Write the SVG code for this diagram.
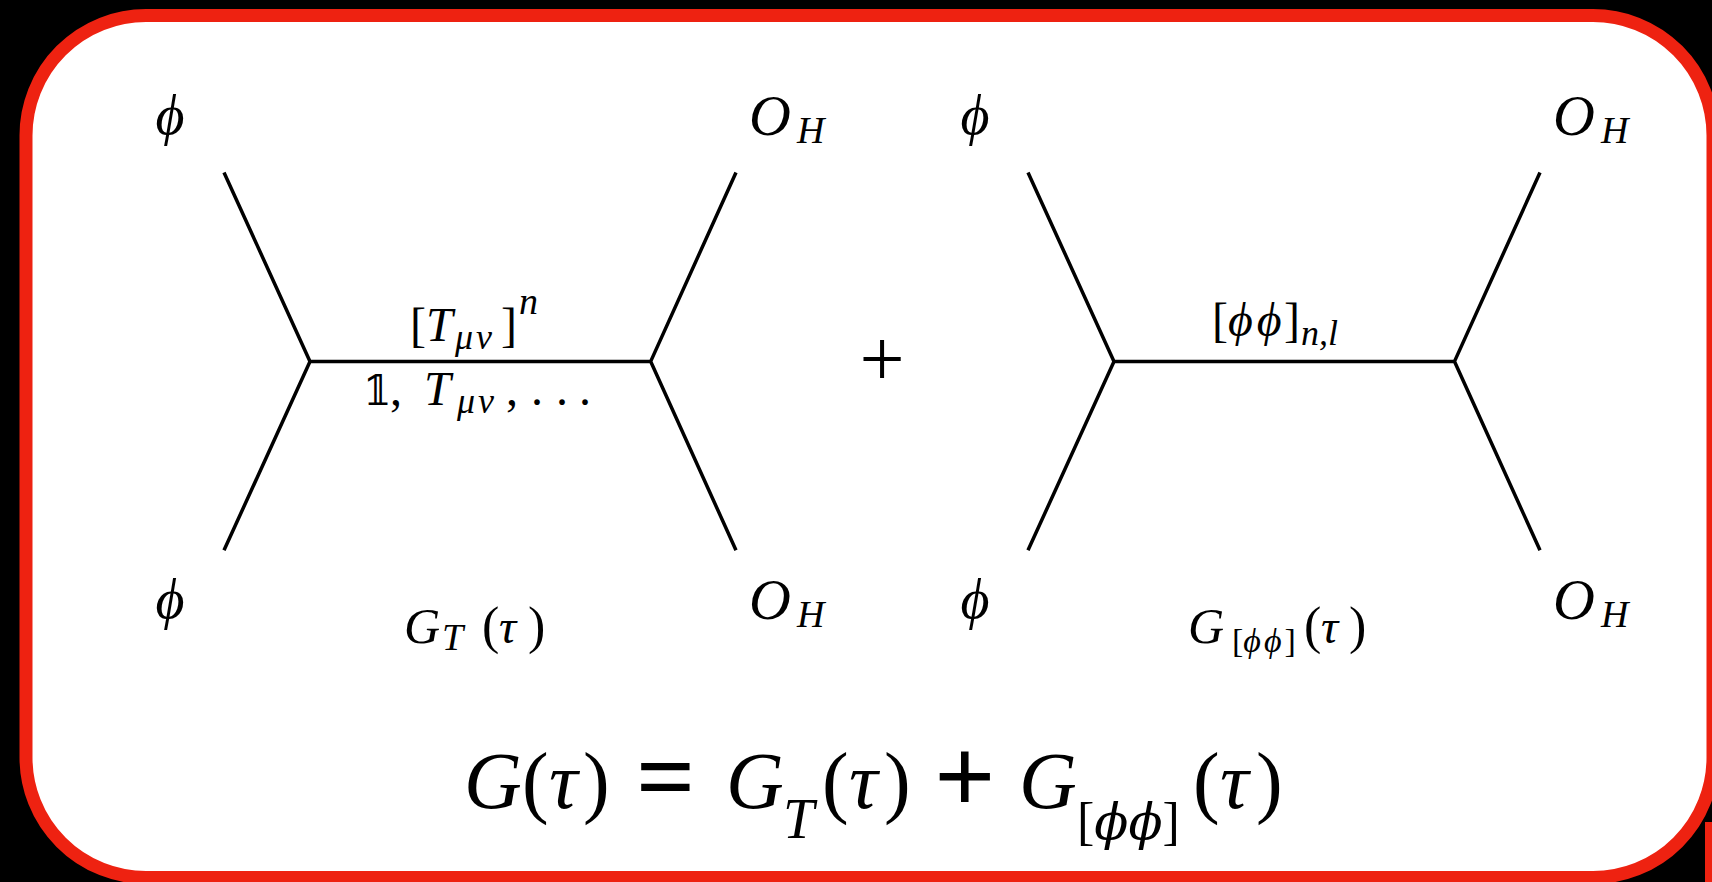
<svg xmlns="http://www.w3.org/2000/svg" width="1712" height="882" viewBox="0 0 1712 882">
<style>
.m{font-family:"Liberation Serif","DejaVu Serif",serif;font-style:italic;fill:#000}
.r{font-family:"Liberation Serif","DejaVu Serif",serif;font-style:normal;fill:#000}
.dj{font-family:"DejaVu Serif",serif;font-style:italic}
.b{font-weight:bold}
.L{font-size:56px}
.M{font-size:48px}
.S{font-size:36px}
.E{font-size:80px}
.edge{stroke:#000;stroke-width:3.5;fill:none;stroke-linecap:butt;stroke-linejoin:miter}
</style>
<rect x="0" y="0" width="1712" height="882" fill="#000"/>
<rect id="frame" x="26" y="15.5" width="1687" height="862" rx="120" ry="120" fill="#fff" stroke="#EE2211" stroke-width="13"/>
<rect x="1705" y="822" width="7" height="60" fill="#EE2211"/>

<g id="connectors">
  <path class="edge" d="M224,172.5 L310,361.4 L224,550.3 M310,361.4 L650.7,361.4 M736,172.5 L650.7,361.4 L736,550.3"/>
  <path class="edge" d="M1028,172.5 L1114,361.4 L1028,550.3 M1114,361.4 L1454.5,361.4 M1540,172.5 L1454.5,361.4 L1540,550.3"/>
</g>

<g id="left-diagram">
  <text class="m L" x="170" y="134" text-anchor="middle">ϕ</text>
  <text class="m L" x="170" y="618" text-anchor="middle">ϕ</text>
  <text class="m" x="749" y="135"><tspan style="font-size:58px">O</tspan><tspan x="797" y="143" style="font-size:38px">H</tspan></text>
  <text class="m" x="749" y="619"><tspan style="font-size:58px">O</tspan><tspan x="797" y="627" style="font-size:38px">H</tspan></text>
  <text class="m M" y="341"><tspan class="r" x="410">[</tspan><tspan x="426">T</tspan><tspan class="S" x="455" y="349" letter-spacing="3">μν</tspan><tspan class="r" x="501" y="341">]</tspan><tspan x="519" y="314" style="font-size:38px">n</tspan></text>
  <text class="m M" y="405"><tspan x="363" style="font-family:'DejaVu Serif','DejaVu Sans',serif;font-style:normal;font-size:41px">𝟙</tspan><tspan class="r" x="390">,</tspan><tspan x="424">T</tspan><tspan class="S" x="457" y="413" letter-spacing="3">μν</tspan><tspan class="r" x="506" y="405">,</tspan><tspan class="r" x="531">.</tspan><tspan class="r" x="556">.</tspan><tspan class="r" x="579">.</tspan></text>
  <text class="m M" y="643"><tspan x="404" style="font-size:50px">G</tspan><tspan x="442" y="650" style="font-size:38px">T</tspan><tspan class="r" x="482" y="643" style="font-size:52px">(</tspan><tspan x="499">τ</tspan><tspan class="r" x="528" style="font-size:52px">)</tspan></text>
</g>

<g id="plus">
  <text class="r" x="882" y="386" text-anchor="middle" style="font-size:80px">+</text>
</g>

<g id="right-diagram">
  <text class="m L" x="975" y="134" text-anchor="middle">ϕ</text>
  <text class="m L" x="975" y="618" text-anchor="middle">ϕ</text>
  <text class="m" x="1553" y="135"><tspan style="font-size:58px">O</tspan><tspan x="1601" y="143" style="font-size:38px">H</tspan></text>
  <text class="m" x="1553" y="619"><tspan style="font-size:58px">O</tspan><tspan x="1601" y="627" style="font-size:38px">H</tspan></text>
  <text class="m M" y="336"><tspan class="r" x="1212">[</tspan><tspan x="1228" letter-spacing="4">ϕϕ</tspan><tspan class="r" x="1284">]</tspan><tspan x="1301" y="345" style="font-size:36px">n,l</tspan></text>
  <text class="m M" y="643"><tspan x="1188" style="font-size:50px">G</tspan><tspan class="S" x="1232" y="652" style="font-size:34px"><tspan class="r">[</tspan><tspan letter-spacing="3">ϕϕ</tspan><tspan class="r">]</tspan></tspan><tspan class="r" x="1304" y="643" style="font-size:52px">(</tspan><tspan x="1321">τ</tspan><tspan class="r" x="1349" style="font-size:52px">)</tspan></text>
</g>

<g id="equation">
  <text class="m E" y="808"><tspan x="464">G</tspan><tspan class="r" x="522">(</tspan><tspan x="549">τ</tspan><tspan class="r" x="583">)</tspan><tspan class="r b" x="636" y="811" style="font-size:104px">=</tspan><tspan x="726" y="808">G</tspan><tspan x="783" y="838" style="font-size:56px">T</tspan><tspan class="r" x="822" y="808">(</tspan><tspan x="849">τ</tspan><tspan class="r" x="884">)</tspan><tspan class="r b" x="934" y="813" style="font-size:108px">+</tspan><tspan x="1019" y="808">G</tspan><tspan x="1077" y="839" style="font-size:52px"><tspan class="r">[</tspan><tspan class="dj" style="font-size:50px">ϕϕ</tspan><tspan class="r">]</tspan></tspan><tspan class="r" x="1193" y="808">(</tspan><tspan x="1220">τ</tspan><tspan class="r" x="1256">)</tspan></text>
</g>
</svg>
